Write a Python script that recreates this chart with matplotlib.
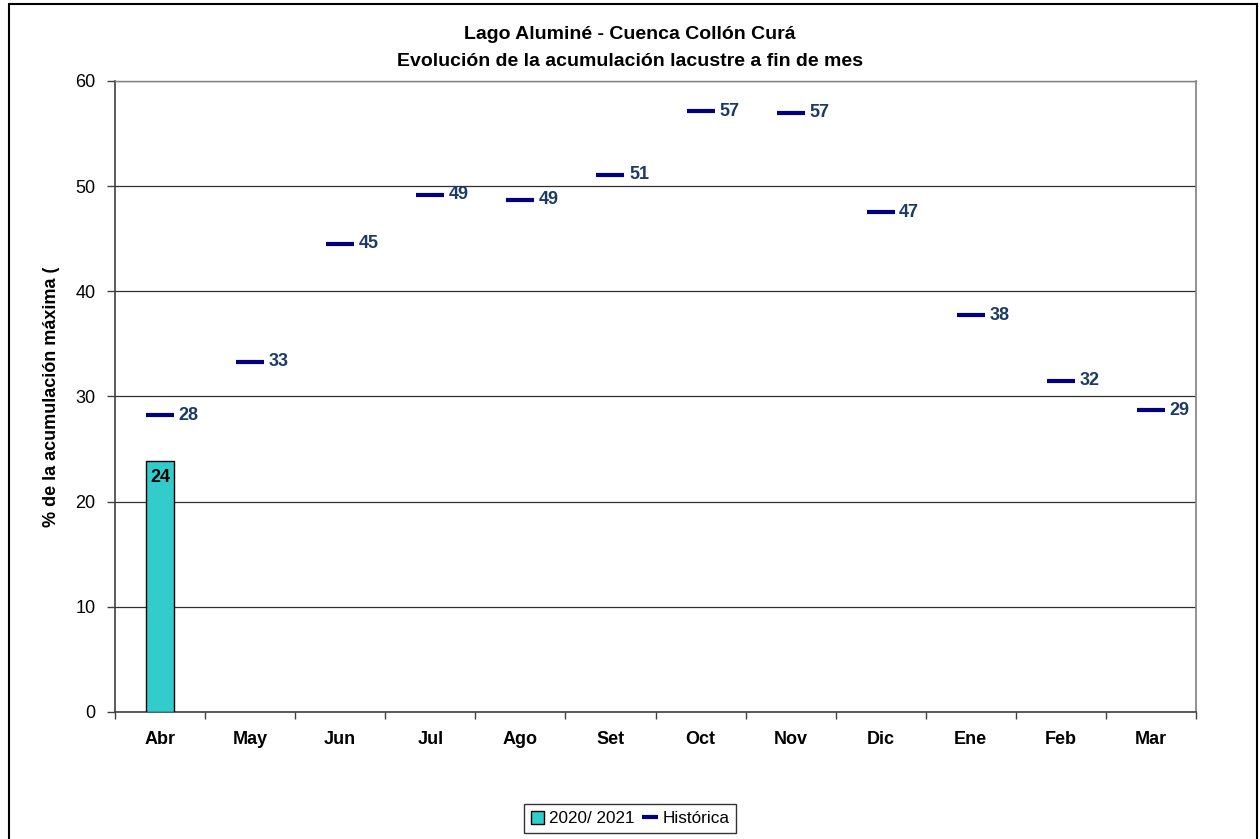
import numpy as np
import matplotlib.pyplot as plt
from matplotlib.patches import Rectangle

plt.rcParams['font.family'] = ['Liberation Sans', 'DejaVu Sans']

meses = ['Abr', 'May', 'Jun', 'Jul', 'Ago', 'Set', 'Oct', 'Nov', 'Dic', 'Ene', 'Feb', 'Mar']
historica = [28.2, 33.3, 44.5, 49.2, 48.7, 51.1, 57.1, 57.0, 47.5, 37.7, 31.5, 28.7]
etiquetas_hist = [28, 33, 45, 49, 49, 51, 57, 57, 47, 38, 32, 29]
actual = [23.9]  # 2020/ 2021, solo Abr
etiquetas_act = [24]

fig = plt.figure(figsize=(12.6, 8.39), dpi=100)
ax = fig.add_axes([0.0913, 0.1514, 0.8579, 0.7521])

x = np.arange(len(meses))
xa = x[:len(actual)]

# barras 2020/2021
bars = ax.bar(xa, actual, width=0.31, color='#33CCCC', edgecolor='black', linewidth=1.0,
              zorder=3, label='2020/ 2021')
for xi, v, t in zip(xa, actual, etiquetas_act):
    ax.text(xi, v - 0.8, str(t), ha='center', va='top', fontsize=13, fontweight='bold',
            color='black', zorder=4)

# historica (marcador guion)
hist, = ax.plot(x, historica, linestyle='none', marker='_', markersize=19.5, markeredgewidth=3.0,
                color='#000080', zorder=4, label='Histórica')
for xi, v, t in zip(x, historica, etiquetas_hist):
    ax.text(xi + 0.205, v, str(t), ha='left', va='center', fontsize=13, fontweight='bold',
            color='#1B3A66', zorder=5)

ax.set_xlim(-0.5, len(meses) - 0.5)
ax.set_ylim(0, 60)
ax.set_yticks(np.arange(0, 61, 10))
ax.tick_params(axis='y', labelsize=13, length=6, width=1, color='#404040', pad=8)
ax.set_xticks(np.arange(-0.5, len(meses), 1.0))
ax.set_xticklabels([])
ax.set_xticks(x, minor=True)
ax.set_xticklabels(meses, minor=True, fontsize=13, fontweight='bold')
ax.tick_params(axis='x', which='major', length=5, width=1, color='#404040', direction='out')
ax.tick_params(axis='x', which='minor', length=0, pad=14)

ax.yaxis.grid(True, color='#303030', linewidth=0.9, zorder=0)
ax.set_axisbelow(True)
for s in ['left', 'bottom']:
    ax.spines[s].set_color('#404040')
    ax.spines[s].set_linewidth(1.2)
ax.spines['right'].set_color('#808080')
ax.spines['right'].set_linewidth(1.2)
ax.spines['top'].set_color('#808080')
ax.spines['top'].set_linewidth(1.0)

ax.set_ylabel('% de la acumulación máxima (', fontsize=13, fontweight='bold')
ax.yaxis.set_label_coords(-0.051, 0.5)

fig.text(0.5, 0.959, 'Lago Aluminé - Cuenca Collón Curá', ha='center', va='center',
         fontsize=14, fontweight='bold')
fig.text(0.5, 0.927, 'Evolución de la acumulación lacustre a fin de mes', ha='center', va='center',
         fontsize=14, fontweight='bold')

leg = fig.legend(handles=[bars, hist], loc='center', bbox_to_anchor=(0.5, 0.0245), ncol=2,
                 fontsize=12.3, frameon=True, fancybox=False, edgecolor='black',
                 handlelength=0.8, handleheight=0.8, handletextpad=0.3, columnspacing=0.5,
                 borderpad=0.4)
leg.get_frame().set_linewidth(1.0)
leg.legend_handles[1].set_markersize(12)

# marco exterior
fig.patches.append(Rectangle((0.0071, -0.05), 0.9905, 1.045, transform=fig.transFigure,
                             fill=False, edgecolor='black', linewidth=1.5))

fig.savefig('out.png', dpi=100)
